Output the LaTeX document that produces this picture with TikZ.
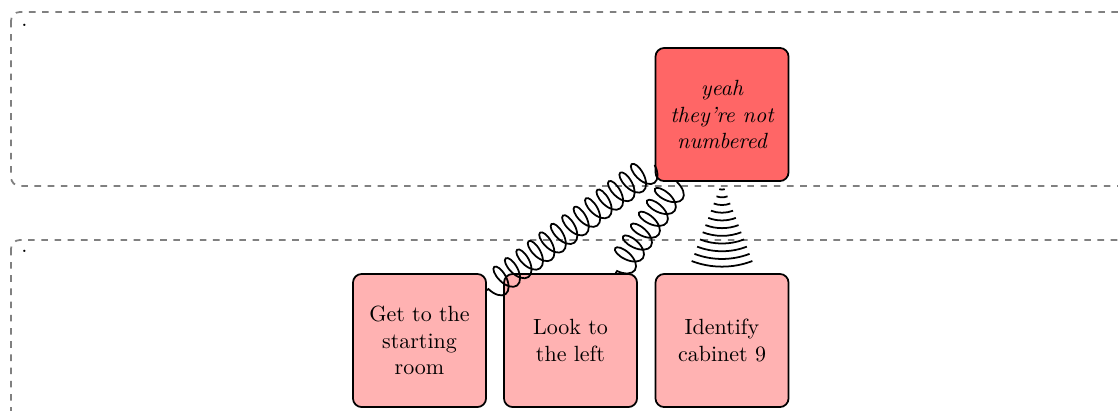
\documentclass[tikz,border=0pt]{standalone}
\usetikzlibrary{decorations.pathmorphing,decorations.pathreplacing,decorations.shapes}
\begin{document}
\begin{tikzpicture}[x=0.4545pt,y=-0.4545pt,
  task/.style={draw,thick,rounded corners=4pt,minimum width=60.5pt,minimum height=60.5pt,align=center,inner sep=2pt},
  lane/.style={draw=gray,dashed,rounded corners=4pt,thick},
  dotlabel/.style={inner sep=0pt,anchor=base west},
  coilline/.style={thick,decorate,decoration={coil,amplitude=6.5pt,segment length=6.5pt}},
  waveline/.style={thick,decorate,decoration={expanding waves,angle=21,segment length=3.5pt}}]
\useasboundingbox (0,0) rectangle (1118,410);
\clip (0,0) rectangle (1118,410);
\draw[lane] (11,12) rectangle (1140,186);
\draw[lane] (11,240) rectangle (1140,440);
\node[dotlabel] (d1) at (21,26) {.};
\node[dotlabel] (d2) at (21,252) {.};
\node[task,fill=red!60,font=\itshape] (top) at (722,114.5) {yeah\\they’re not\\numbered};
\node[task,fill=red!30] (get) at (419.5,340.5) {Get to the\\starting\\room};
\node[task,fill=red!30] (look) at (570.5,340.5) {Look to\\the left};
\node[task,fill=red!30] (ident) at (722,340.5) {Identify\\cabinet 9};
\draw[coilline] (top) -- (get);
\draw[coilline] (top) -- (look);
\draw[waveline] (top) -- (ident);
\end{tikzpicture}
\end{document}
